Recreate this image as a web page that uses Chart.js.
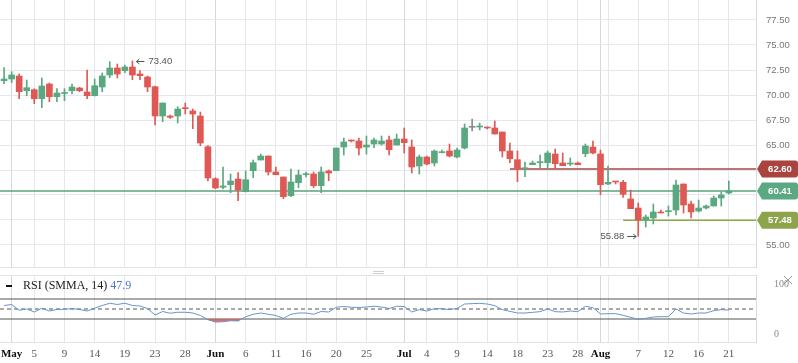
<!DOCTYPE html>
<html>
<head>
<meta charset="utf-8">
<title>Brent candles with RSI</title>
<script src="https://cdn.jsdelivr.net/npm/chart.js@4.4.1/dist/chart.umd.min.js"></script>
<style>
    html, body { margin: 0; padding: 0; background: #fff; }
    #wrap { position: relative; width: 798px; height: 363px; overflow: hidden; }
    #main { position: absolute; left: 0; top: 0; }
    #rsi { position: absolute; left: 0; top: 270px; }
    #rsiLegend {
        position: absolute; left: 6px; top: 278px;
        font: 12px 'Liberation Serif', serif; color: #222; white-space: nowrap;
    }
    #rsiLegend .swatch {
        display: inline-block; width: 6px; height: 2px; background: #111;
        vertical-align: middle; margin-right: 11px;
    }
    #rsiLast { color: #4a78c2; margin-left: 3px; }
</style>
</head>
<body>
<div id="wrap">
    <canvas id="main" width="798" height="268"></canvas>
    <canvas id="rsi" width="798" height="93"></canvas>
    <div id="rsiLegend"><span class="swatch"></span><span>RSI (SMMA, 14)</span><span id="rsiLast"></span></div>
</div>
<script>
// Daily candles, Apr 30 .. Aug 21 (bar index 0..96)
const openP = [71.43, 71.6, 71.9, 70.43, 70.53, 69.63, 71.1, 69.83, 70.15, 70.43,
    70.7, 70.3, 69.93, 70.8, 72.0, 72.7, 72.43, 72.8, 72.1, 71.8,
    70.83, 67.9, 67.9, 67.9, 68.73, 68.4, 67.9, 64.83, 61.63, 60.77,
    61.03, 61.6, 60.33, 62.43, 63.5, 63.9, 62.3, 61.8, 59.93, 61.23,
    62.03, 62.1, 60.93, 62.4, 62.43, 64.8, 65.5, 65.4, 64.8, 65.1,
    65.1, 65.5, 65.0, 65.6, 64.8, 62.9, 63.8, 63.2, 64.23, 64.4,
    63.8, 64.7, 66.77, 66.8, 66.8, 66.7, 66.3, 64.4, 63.53, 62.63,
    63.03, 63.23, 63.23, 64.1, 63.2, 63.1, 63.2, 64.13, 64.8, 64.1,
    61.1, 61.37, 61.27, 59.6, 58.7, 57.5, 57.7, 58.3, 58.33, 58.5,
    61.1, 59.1, 58.4, 58.7, 58.9, 59.7, 60.2];
const highP = [72.73, 72.33, 72.1, 71.5, 70.63, 71.7, 71.2, 70.63, 70.63, 71.1,
    70.77, 72.5, 71.6, 72.2, 73.33, 73.1, 73.0, 73.4, 72.43, 71.9,
    70.9, 69.2, 68.0, 68.83, 69.2, 68.6, 68.3, 64.93, 61.73, 62.8,
    62.1, 62.23, 62.4, 63.5, 64.1, 63.9, 62.8, 61.8, 62.6, 62.5,
    62.3, 62.3, 62.8, 62.5, 64.7, 65.7, 65.5, 65.7, 65.9, 65.7,
    65.9, 65.9, 66.1, 66.7, 65.5, 64.0, 63.9, 64.5, 64.5, 65.1,
    64.7, 67.1, 67.6, 67.2, 66.8, 67.4, 66.3, 65.2, 64.4, 63.3,
    63.4, 64.0, 64.4, 64.6, 64.2, 63.7, 63.3, 65.1, 65.4, 64.5,
    62.9, 61.37, 61.47, 60.5, 59.2, 58.0, 59.1, 58.5, 58.9, 61.5,
    61.1, 59.4, 59.5, 59.0, 59.9, 60.3, 61.4];
const lowP = [71.13, 71.23, 69.63, 69.93, 69.13, 68.73, 69.33, 69.33, 69.43, 70.1,
    70.33, 69.63, 69.9, 70.33, 71.73, 71.7, 72.23, 71.53, 71.53, 70.33,
    67.0, 67.33, 67.67, 67.2, 68.1, 66.63, 64.93, 61.4, 60.63, 60.6,
    60.23, 59.43, 60.3, 61.73, 63.5, 62.0, 62.03, 59.63, 59.83, 60.73,
    61.8, 60.73, 60.23, 61.43, 62.43, 64.0, 65.3, 64.0, 64.1, 64.73,
    65.0, 64.0, 65.0, 64.2, 62.2, 62.1, 63.0, 62.9, 64.2, 63.8,
    63.7, 64.6, 66.4, 66.5, 66.6, 66.1, 63.8, 63.23, 61.33, 61.83,
    63.03, 62.73, 62.63, 62.63, 62.93, 62.93, 63.03, 63.83, 64.1, 60.03,
    61.03, 61.1, 59.77, 58.63, 55.88, 56.8, 57.1, 58.2, 57.9, 58.0,
    58.2, 57.7, 58.3, 58.6, 58.9, 58.9, 60.1];
const closeP = [71.6, 72.0, 70.33, 70.73, 69.63, 70.9, 69.83, 70.2, 70.18, 70.8,
    70.43, 69.93, 70.93, 71.9, 72.7, 72.1, 72.8, 72.0, 71.93, 70.8,
    67.9, 69.2, 67.77, 68.6, 68.63, 68.1, 65.2, 61.7, 60.7, 60.9,
    61.4, 60.5, 61.53, 63.23, 63.9, 62.3, 62.03, 59.83, 61.3, 62.0,
    62.13, 60.93, 62.3, 62.2, 64.7, 65.3, 65.4, 64.7, 65.0, 65.5,
    65.4, 64.53, 65.6, 65.23, 62.8, 63.8, 63.1, 64.4, 64.3, 63.9,
    64.5, 66.7, 66.77, 66.9, 66.7, 66.1, 64.4, 63.63, 62.63, 62.7,
    63.2, 63.3, 64.2, 63.13, 62.93, 63.2, 63.03, 64.9, 64.2, 61.03,
    61.27, 61.3, 60.07, 58.63, 57.5, 57.8, 58.3, 58.2, 58.4, 61.0,
    59.0, 58.3, 58.7, 58.9, 59.7, 60.0, 60.41];

// RSI (SMMA, 14), one value per candle
const rsiValues = [57, 59, 47.5, 50, 44, 51.5, 46, 49, 49.5, 51,
    49, 46, 51.5, 57, 61.6, 59, 61.6, 57, 56, 51,
    38, 45, 41.5, 43.5, 43.5, 42, 37, 28.5, 24, 24.5,
    26.5, 26, 34.5, 39.5, 42, 39.5, 37, 31.4, 39.5, 42,
    42, 39.5, 45, 44, 53.5, 55, 53.5, 53, 54, 55.5,
    54, 51, 55.5, 55, 44, 48.7, 46, 50.7, 50.7, 48.7,
    51.3, 60, 60.7, 61.3, 60, 56.7, 48.7, 45.3, 42, 42,
    43.3, 44.7, 50, 44.7, 44, 46, 44.7, 55.3, 52.7, 40,
    40.7, 40.7, 37.3, 33.3, 29.3, 31.3, 34, 34.7, 34.7, 50,
    42, 40, 42, 42, 46.7, 48.7, 47.9];

// date ticks (bar index -> label)
const tickIndex = [1, 4, 8, 12, 16, 20, 24, 28, 32, 36, 40, 44, 48, 53, 56, 60, 64, 68, 72, 76, 79, 80, 84, 88, 92, 96];
const tickText = ['May', '5', '9', '14', '19', '23', '28', 'Jun', '6', '11', '16', '20', '25',
    'Jul', '4', '9', '14', '18', '23', '28', 'Aug', '', '7', '12', '16', '21'];
const monthNames = ['May', 'Jun', 'Jul', 'Aug'];

const priceTicks = [55, 57.5, 60, 62.5, 65, 67.5, 70, 72.5, 75, 77.5];
const rsiTicks = [0, 100];
const rsiBands = [70, 50, 30];

// horizontal price levels and the bar they start from
const levelValues = [62.60, 60.41, 57.48];
const levelStart = [67, -1, 82];

// styles
const X_MIN = -0.54, X_MAX = 99.6;
const UP = '#5aa880', DOWN = '#e05854', FLAT = '#8a8a8a';
const levelLine = ['#a94644', '#5aa37e', '#8eaa4a'];
const levelTag = ['#a9443f', '#5aa983', '#8da44b'];
const GRID = '#e5e7ea', MONTH_GRID = '#d4d7db';

function candleColor(i) {
    if (closeP[i] > openP[i]) return UP;
    if (closeP[i] < openP[i]) return DOWN;
    return FLAT;
}

function tickLabel(v) {
    const k = tickIndex.indexOf(v);
    return k < 0 ? '' : tickText[k];
}

function isMonth(ctx) {
    return !!(ctx && ctx.tick) && monthNames.includes(tickLabel(ctx.tick.value));
}

const xAxisBase = {
    type: 'linear',
    min: X_MIN,
    max: X_MAX,
    offset: false,
    afterBuildTicks: (s) => { s.ticks = tickIndex.map(v => ({ value: v })); },
    grid: {
        offset: false,
        drawTicks: false,
        color: (ctx) => isMonth(ctx) ? MONTH_GRID : GRID
    },
    border: { color: '#dfe2e6' }
};

// Price tags on the right axis
const priceTagPlugin = {
    id: 'priceTags',
    afterDraw(chart) {
        const { ctx, chartArea } = chart;
        const y = chart.scales.y;
        const x0 = chartArea.right, x1 = chart.width, h = 17;
        levelValues.forEach((v, k) => {
            const py = y.getPixelForValue(v);
            ctx.save();
            ctx.fillStyle = levelTag[k];
            ctx.beginPath();
            ctx.moveTo(x0 + 1, py);
            ctx.lineTo(x0 + 6, py - h / 2);
            ctx.lineTo(x1 - 3, py - h / 2);
            ctx.quadraticCurveTo(x1, py - h / 2, x1, py - h / 2 + 3);
            ctx.lineTo(x1, py + h / 2 - 3);
            ctx.quadraticCurveTo(x1, py + h / 2, x1 - 3, py + h / 2);
            ctx.lineTo(x0 + 6, py + h / 2);
            ctx.closePath();
            ctx.fill();
            ctx.fillStyle = '#fff';
            ctx.font = 'bold 9.5px "Liberation Sans", sans-serif';
            ctx.textAlign = 'center';
            ctx.textBaseline = 'middle';
            ctx.fillText(v.toFixed(2), (x0 + 6 + x1) / 2, py + 0.5);
            ctx.restore();
        });
    }
};

// High / low markers
const extremesPlugin = {
    id: 'extremes',
    afterDatasetsDraw(chart) {
        const { ctx } = chart;
        const xs = chart.scales.x, ys = chart.scales.y;
        const hi = highP.indexOf(Math.max(...highP));
        const lo = lowP.indexOf(Math.min(...lowP));

        ctx.save();
        ctx.strokeStyle = '#555';
        ctx.fillStyle = '#555';
        ctx.lineWidth = 1;
        ctx.font = '9.5px "Liberation Sans", sans-serif';
        ctx.textBaseline = 'middle';

        // high: arrow pointing left to the wick
        let px = xs.getPixelForValue(hi), py = Math.round(ys.getPixelForValue(highP[hi])) + 0.5;
        ctx.beginPath();
        ctx.moveTo(px + 12, py); ctx.lineTo(px + 4, py);
        ctx.moveTo(px + 7, py - 2.5); ctx.lineTo(px + 4, py); ctx.lineTo(px + 7, py + 2.5);
        ctx.stroke();
        ctx.textAlign = 'left';
        ctx.fillText(highP[hi].toFixed(2), px + 16, py);

        // low: arrow pointing right to the wick
        px = xs.getPixelForValue(lo); py = Math.round(ys.getPixelForValue(lowP[lo])) + 0.5;
        ctx.beginPath();
        ctx.moveTo(px - 11, py); ctx.lineTo(px - 2, py);
        ctx.moveTo(px - 5, py - 2.5); ctx.lineTo(px - 2, py); ctx.lineTo(px - 5, py + 2.5);
        ctx.stroke();
        ctx.textAlign = 'right';
        ctx.fillText(lowP[lo].toFixed(2), px - 14, py);
        ctx.restore();
    }
};

// RSI pane frame, resize handle and close mark
const rsiFramePlugin = {
    id: 'rsiFrame',
    afterDraw(chart) {
        const { ctx, chartArea } = chart;
        ctx.save();
        ctx.strokeStyle = '#dfe2e6';
        ctx.lineWidth = 1;
        ctx.beginPath();
        ctx.moveTo(0, chartArea.top + 0.5); ctx.lineTo(chartArea.right, chartArea.top + 0.5);
        ctx.stroke();

        ctx.strokeStyle = '#cfcfcf';
        ctx.beginPath();
        ctx.moveTo(373, 1.5); ctx.lineTo(384, 1.5);
        ctx.moveTo(373, 3.5); ctx.lineTo(384, 3.5);
        ctx.stroke();

        ctx.strokeStyle = '#999';
        ctx.beginPath();
        ctx.moveTo(784, 6); ctx.lineTo(792, 14);
        ctx.moveTo(792, 6); ctx.lineTo(784, 14);
        ctx.stroke();
        ctx.restore();
    }
};

const bars = openP.map((_, i) => i);

new Chart(document.getElementById('main'), {
    type: 'bar',
    data: {
        datasets: [
            ...levelValues.map((v, k) => ({
                type: 'line',
                data: [{ x: levelStart[k], y: v }, { x: X_MAX, y: v }],
                borderColor: levelLine[k],
                borderWidth: 1.5,
                pointRadius: 0,
                order: 5
            })),
            {
                data: bars.map(i => ({ x: i, y: [lowP[i], highP[i]] })),
                backgroundColor: (ctx) => candleColor(ctx.dataIndex),
                barThickness: 1,
                grouped: false,
                order: 2
            },
            {
                data: bars.map(i => ({ x: i, y: [openP[i], closeP[i]] })),
                backgroundColor: (ctx) => candleColor(ctx.dataIndex),
                barThickness: 6,
                minBarLength: 1,
                grouped: false,
                order: 1
            }
        ]
    },
    options: {
        responsive: false,
        animation: false,
        layout: { padding: 0 },
        plugins: { legend: { display: false }, tooltip: { enabled: false } },
        scales: {
            x: {
                ...xAxisBase,
                ticks: { display: false },
                afterFit: (s) => { s.height = 1; s.paddingLeft = 0; s.paddingRight = 0; }
            },
            y: {
                position: 'right',
                min: 52.8,
                max: 79.5,
                afterBuildTicks: (s) => { s.ticks = priceTicks.map(v => ({ value: v })); },
                ticks: {
                    padding: 10,
                    color: '#777',
                    font: { family: 'Liberation Sans', size: 9.5 },
                    callback: (v) => Number(v).toFixed(2)
                },
                grid: { drawTicks: false, color: GRID },
                border: { color: '#d6d9dd' },
                afterFit: (s) => { s.width = 42; s.paddingTop = 0; s.paddingBottom = 0; }
            }
        }
    },
    plugins: [priceTagPlugin, extremesPlugin]
});

new Chart(document.getElementById('rsi'), {
    type: 'line',
    data: {
        datasets: [
            {
                data: rsiValues.map((v, i) => ({ x: i, y: v })),
                borderColor: '#6a93cf',
                borderWidth: 1,
                pointRadius: 0,
                fill: { target: { value: 30 }, above: 'rgba(0,0,0,0)', below: 'rgba(224,92,88,0.9)' },
                order: 1
            },
            ...rsiBands.map(v => ({
                data: [{ x: X_MIN, y: v }, { x: X_MAX, y: v }],
                borderColor: '#555',
                borderWidth: 1,
                borderDash: v === 50 ? [4, 3] : [],
                pointRadius: 0,
                fill: false,
                order: 2
            }))
        ]
    },
    options: {
        responsive: false,
        animation: false,
        layout: { padding: { top: 5 } },
        plugins: { legend: { display: false }, tooltip: { enabled: false } },
        scales: {
            x: {
                ...xAxisBase,
                ticks: {
                    autoSkip: false,
                    maxRotation: 0,
                    padding: 6,
                    callback: (v) => tickLabel(v),
                    color: (ctx) => isMonth(ctx) ? '#111' : '#555',
                    font: (ctx) => ({
                        family: 'Liberation Serif',
                        size: 11,
                        weight: isMonth(ctx) ? 'bold' : 'normal'
                    })
                },
                afterFit: (s) => { s.height = 21; s.paddingLeft = 0; s.paddingRight = 0; }
            },
            y: {
                position: 'right',
                min: -16,
                max: 118,
                afterBuildTicks: (s) => { s.ticks = rsiTicks.map(v => ({ value: v })); },
                ticks: {
                    padding: 10,
                    color: '#888',
                    font: { family: 'Liberation Serif', size: 10 }
                },
                grid: { display: false },
                border: { color: '#d6d9dd' },
                afterFit: (s) => { s.width = 42; s.paddingTop = 0; s.paddingBottom = 0; }
            }
        }
    },
    plugins: [rsiFramePlugin]
});

document.getElementById('rsiLast').textContent = rsiValues[rsiValues.length - 1].toFixed(1);
</script>
</body>
</html>
